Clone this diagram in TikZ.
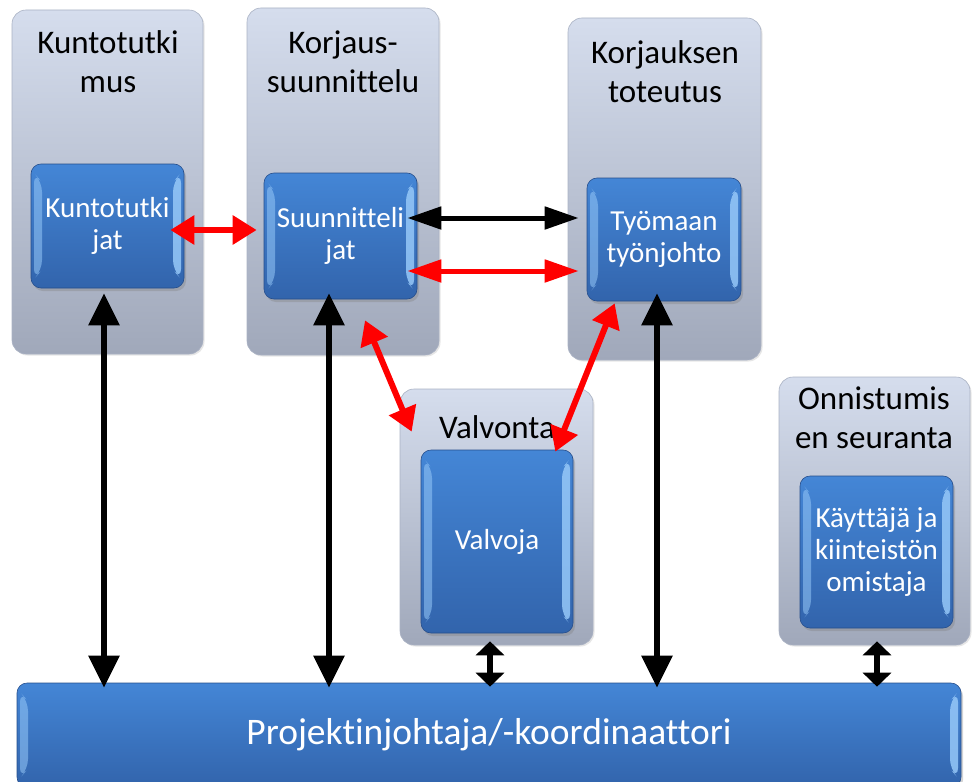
\documentclass[tikz,border=0pt]{standalone}
\usepackage{fontspec}
\setmainfont{Carlito}[Ligatures=NoCommon]
\usetikzlibrary{arrows.meta,calc,shadows}
\definecolor{grayTop}{RGB}{213,221,237}
\definecolor{grayBot}{RGB}{160,168,186}
\definecolor{grayEdge}{RGB}{170,178,196}
\definecolor{blueTop}{RGB}{68,134,214}
\definecolor{blueBot}{RGB}{50,100,172}
\definecolor{blueEdge}{RGB}{38,78,140}
\definecolor{bevelc}{RGB}{150,200,248}
\definecolor{arrowred}{RGB}{255,0,0}
\tikzset{
  phase/.style={rounded corners=14pt, top color=grayTop, bottom color=grayBot,
    draw=grayEdge, line width=0.6pt, inner sep=0pt,
    drop shadow={opacity=0.2, shadow xshift=1.5pt, shadow yshift=-1.5pt}},
  role/.style={rounded corners=10pt, top color=blueTop, bottom color=blueBot,
    draw=blueEdge, line width=0.6pt, inner sep=0pt, text=white, align=center,
    font=\fontsize{29}{32}\selectfont,
    drop shadow={opacity=0.35, shadow xshift=2pt, shadow yshift=-3pt},
    path picture={
      \fill[bevelc, opacity=0.55]
        ([shift={(3pt,-9pt)}]path picture bounding box.north west) --
        ([shift={(11pt,-18pt)}]path picture bounding box.north west) --
        ([shift={(11pt,18pt)}]path picture bounding box.south west) --
        ([shift={(3pt,9pt)}]path picture bounding box.south west) -- cycle;
      \fill[bevelc, opacity=0.85]
        ([shift={(-3pt,-9pt)}]path picture bounding box.north east) --
        ([shift={(-11pt,-18pt)}]path picture bounding box.north east) --
        ([shift={(-11pt,18pt)}]path picture bounding box.south east) --
        ([shift={(-3pt,9pt)}]path picture bounding box.south east) -- cycle;
    }},
  title/.style={text=black, align=center, inner sep=0pt, font=\fontsize{33}{39}\selectfont},
  bigarrow/.style={line width=6pt, draw=black, {Triangle[width=30pt,length=32pt]}-{Triangle[width=30pt,length=32pt]}},
  harrow/.style={line width=5pt, {Triangle[width=22pt,length=34pt]}-{Triangle[width=22pt,length=34pt]}},
  redarrow/.style={line width=6pt, draw=arrowred, {Triangle[width=28pt,length=24pt]}-{Triangle[width=28pt,length=24pt]}},
  smallarrow/.style={line width=6pt, draw=black, {Triangle[width=28pt,length=14pt]}-{Triangle[width=28pt,length=14pt]}},
}
\begin{document}
\begin{tikzpicture}[x=1pt,y=-1pt]
\useasboundingbox (0,0) rectangle (973,781);
% phase boxes
\node[phase, minimum width=191pt, minimum height=344pt] (k) at (107.5,182) {};
\node[phase, minimum width=192pt, minimum height=347pt] (s) at (343,181.5) {};
\node[phase, minimum width=193pt, minimum height=342pt] (t) at (664.5,189) {};
\node[phase, minimum width=193pt, minimum height=256pt] (v) at (496.5,517) {};
\node[phase, minimum width=191pt, minimum height=268pt] (o) at (874.5,511) {};
% titles
\node[title] (kt) at (108,62) {Kuntotutki\\mus};
\node[title] (st) at (343,62) {Korjaus-\\suunnittelu};
\node[title] (tt) at (665,72) {Korjauksen\\toteutus};
\node[title] (vt) at (497,427) {Valvonta};
\node[title] (ot) at (874,418) {Onnistumis\\en seuranta};
% role boxes
\node[role, minimum width=153pt, minimum height=124pt] (k1) at (107.5,226) {Kuntotutki\\jat};
\node[role, minimum width=153pt, minimum height=126pt] (s1) at (340.5,236) {Suunnitteli\\jat};
\node[role, minimum width=154pt, minimum height=123pt] (t1) at (664,239.5) {Työmaan\\työnjohto};
\node[role, minimum width=152pt, minimum height=183pt] (v1) at (497,541.5) {Valvoja};
\node[role, minimum width=153pt, minimum height=152pt] (o1) at (876.5,552) {Käyttäjä ja\\kiinteistön\\omistaja};
\node[role, minimum width=944pt, minimum height=104pt, font=\fontsize{37.5}{43}\selectfont] (bar) at (489,735) {Projektinjohtaja/-koordinaattori};
% black vertical arrows
\draw[bigarrow] ($(k1.south)+(-3.5,5)$) -- ($(k1.south |- bar.north)+(-3.5,5)$);
\draw[bigarrow] ($(s1.south)+(-11.5,-6)$) -- ($(s1.south |- bar.north)+(-11.5,5)$);
\draw[bigarrow] ($(t1.south)+(-7,-8)$) -- ($(t1.south |- bar.north)+(-7,5)$);
% horizontal arrows
\draw[harrow, draw=black] ($(s1.east)+(-10,-18)$) -- ($(t1.west)+(-8,-21.5)$);
\draw[harrow, draw=arrowred] ($(s1.east)+(-10,35)$) -- ($(t1.west)+(-8,31.5)$);
\draw[redarrow] ($(k1.east)+(-14,4)$) -- ($(s1.west)+(-7,-6)$);
% diagonal red arrows
\draw[redarrow] ($(s1.south)+(24.5,21)$) -- ($(v.north west)+(12,43)$);
\draw[redarrow] ($(t1.south west)+(28,2)$) -- ($(v1.north east)+(-18,2)$);
% small double arrows
\draw[smallarrow] ($(v.south)+(-6.5,-4)$) -- ($(v.south |- bar.north)+(-6.5,4)$);
\draw[smallarrow] ($(o.south)+(2.5,-4)$) -- ($(o.south |- bar.north)+(2.5,4)$);
\end{tikzpicture}
\end{document}
